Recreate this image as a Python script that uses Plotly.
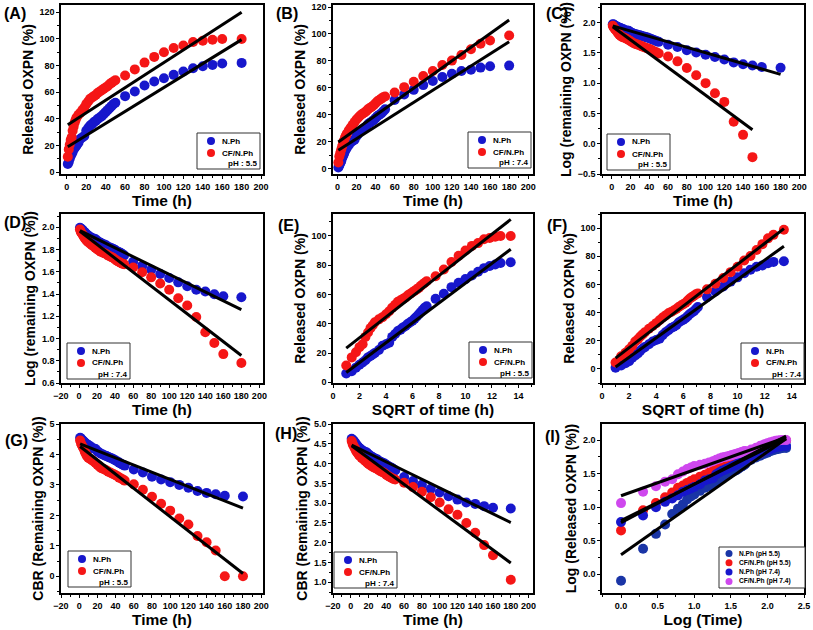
import numpy as np
import plotly.graph_objects as go

# ---------------- data ----------------
time_h = [1, 2, 3, 4, 5, 6, 7, 8, 9, 10,
          12, 14, 16, 18, 20, 22, 24, 26, 28, 30, 32, 34, 36, 38, 40, 42, 44, 46, 48, 50,
          60, 70, 80, 90, 100, 110, 120, 130, 140, 150, 160, 180]

# cumulative released OXPN (%)
nph_ph55 = [6, 7.5, 10, 12, 13.5, 15, 17, 18, 19, 20,
            22, 25, 26, 27, 31, 33, 35, 36, 37.5, 38.5, 40, 41, 42, 43.5, 45, 46.5, 48, 49.5, 51, 52,
            57, 60.5, 65, 68, 70.5, 73, 75.5, 78, 79.5, 80.5, 81.5, 82]
cfnph_ph55 = [11.5, 17, 20.5, 24, 26, 31, 34, 37, 39, 41,
              43, 44.5, 46.5, 48.5, 51, 53, 55, 56, 57, 58, 59.5, 60.5, 61.5, 62.5, 63.5, 64.5, 66, 67, 68, 69,
              72.5, 77.1, 82.2, 86.5, 90, 93.2, 95.1, 97.7, 98.6, 99.4, 100, 100]
nph_ph74 = [0.8, 2.4, 4, 5.5, 7.9, 9.5, 11, 13, 14.5, 15.5,
            17.5, 19.5, 20.5, 21.5, 24, 26, 27.5, 29, 30, 31, 33, 34, 35, 36, 37.5, 39, 40, 41, 42.5, 44,
            51, 55, 58.5, 62, 65, 68, 70.5, 72.5, 73.5, 75, 76, 76.5]
cfnph_ph74 = [4.5, 9, 11.5, 14, 16.5, 19.5, 21, 23, 24.5, 26,
              28.5, 30.5, 32.5, 34.5, 36.5, 38, 39.5, 40.5, 41.5, 42.5, 44, 45, 46, 47, 48.5, 50, 51, 52, 53, 53.5,
              56.5, 60.5, 64.5, 68.7, 72.5, 77, 80.2, 84.4, 88.6, 92.7, 95.2, 98.8]

# panel (D) CF/N.Ph last points as plotted (log remaining)
d_cfnph_tail_time = [150, 160, 180]
d_cfnph_tail_logrem = [0.96, 0.86, 0.78]

# fitted straight lines: [x_start, x_end], [y_start, y_end]
fit_time = [1, 180]
fitA_nph = [19, 99.5];    fitA_cf = [35.5, 120]
fitB_nph = [13.6, 94.2];  fitB_cf = [19.8, 110.3]
fitC_nph = [1.945, 1.144]; fitC_cf_time = [1, 150]; fitC_cf = [1.93, 0.23]
fitD_nph = [1.97, 1.26];  fitD_cf = [1.965, 0.847]
fit_sqrt = [1, 13.42]
fitE_nph = [6.7, 90.9];   fitE_cf = [23.3, 111.3]
fitF_nph = [1.4, 87.1];   fitF_cf = [7.7, 99.6]
fitG_nph = [4.35, 2.24];  fitG_cf = [4.26, 0.09]
fitH_nph = [4.47, 2.51];  fitH_cf = [4.45, 1.49]
fit_logt = [0, 2.255]
fitI_navy = [0.29, 2.02]; fitI_red = [0.77, 2.06]; fitI_blue = [0.80, 2.02]; fitI_violet = [1.17, 2.04]

legend_names = ['N.Ph', 'CF/N.Ph']
legend_names_I = ['N.Ph (pH 5.5)', 'CF/N.Ph (pH 5.5)', 'N.Ph (pH 7.4)', 'CF/N.Ph (pH 7.4)']

# ---------------- derived series ----------------
t = np.array(time_h, dtype=float)
R = {k: np.array(v, dtype=float) for k, v in
     dict(n55=nph_ph55, c55=cfnph_ph55, n74=nph_ph74, c74=cfnph_ph74).items()}
sqrt_t = np.sqrt(t)
log_t = np.log10(t)


def log_rem(r):
    rem = 100.0 - r
    out = np.full_like(rem, np.nan)
    ok = rem > 0
    out[ok] = np.log10(rem[ok])
    return out


def cbr(r):
    return np.cbrt(np.clip(100.0 - r, 0, None))


d_cf = log_rem(R['c74'])
for tt, vv in zip(d_cfnph_tail_time, d_cfnph_tail_logrem):
    d_cf[time_h.index(tt)] = vv

BLUE = '#1717cc'
RED = '#f51616'
NAVY = '#1a35a6'
VIOLET = '#cf48ee'
FONT = 'Liberation Sans, Arial, sans-serif'
W, H = 813, 630

fig = go.Figure()


def names(k):
    return ('x' if k == 1 else f'x{k}', 'y' if k == 1 else f'y{k}')


def pts(k, x, y, name, color):
    xa, ya = names(k)
    fig.add_trace(go.Scatter(x=x, y=y, mode='markers', name=name,
                             marker=dict(size=10, color=color, line=dict(width=0)),
                             xaxis=xa, yaxis=ya, showlegend=False))


def fit(k, x, y):
    xa, ya = names(k)
    fig.add_trace(go.Scatter(x=x, y=y, mode='lines', line=dict(color='black', width=3),
                             xaxis=xa, yaxis=ya, showlegend=False, hoverinfo='skip'))


# (A)
pts(1, time_h, R['n55'], 'N.Ph', BLUE); pts(1, time_h, R['c55'], 'CF/N.Ph', RED)
fit(1, fit_time, fitA_cf); fit(1, fit_time, fitA_nph)
# (B)
pts(2, time_h, R['n74'], 'N.Ph', BLUE); pts(2, time_h, R['c74'], 'CF/N.Ph', RED)
fit(2, fit_time, fitB_cf); fit(2, fit_time, fitB_nph)
# (C)
pts(3, time_h, log_rem(R['n55']), 'N.Ph', BLUE); pts(3, time_h, log_rem(R['c55']), 'CF/N.Ph', RED)
fit(3, fit_time, fitC_nph); fit(3, fitC_cf_time, fitC_cf)
# (D)
pts(4, time_h, log_rem(R['n74']), 'N.Ph', BLUE); pts(4, time_h, d_cf, 'CF/N.Ph', RED)
fit(4, fit_time, fitD_nph); fit(4, fit_time, fitD_cf)
# (E)
pts(5, sqrt_t, R['n55'], 'N.Ph', BLUE); pts(5, sqrt_t, R['c55'], 'CF/N.Ph', RED)
fit(5, fit_sqrt, fitE_nph); fit(5, fit_sqrt, fitE_cf)
# (F)
pts(6, sqrt_t, R['n74'], 'N.Ph', BLUE); pts(6, sqrt_t, R['c74'], 'CF/N.Ph', RED)
fit(6, fit_sqrt, fitF_nph); fit(6, fit_sqrt, fitF_cf)
# (G)
pts(7, time_h, cbr(R['n55']), 'N.Ph', BLUE); pts(7, time_h, cbr(R['c55']), 'CF/N.Ph', RED)
fit(7, fit_time, fitG_nph); fit(7, fit_time, fitG_cf)
# (H)
pts(8, time_h, cbr(R['n74']), 'N.Ph', BLUE); pts(8, time_h, cbr(R['c74']), 'CF/N.Ph', RED)
fit(8, fit_time, fitH_nph); fit(8, fit_time, fitH_cf)
# (I)
pts(9, log_t, np.log10(R['n74']), legend_names_I[0], NAVY)
pts(9, log_t, np.log10(R['c74']), legend_names_I[1], RED)
pts(9, log_t, np.log10(R['n55']), legend_names_I[2], BLUE)
pts(9, log_t, np.log10(R['c55']), legend_names_I[3], VIOLET)
fit(9, fit_logt, fitI_navy); fit(9, fit_logt, fitI_blue); fit(9, fit_logt, fitI_red); fit(9, fit_logt, fitI_violet)

# ---------------- layout ----------------
cols = [(61, 263), (333, 533), (602, 804)]
rows = [(5, 174), (214, 383), (424, 593)]

panels = {
    1: dict(xr=[-6, 202], yr=[-1.5, 125.5], xd=20, yd=20, xt='Time (h)', yt='Released OXPN (%)'),
    2: dict(xr=[-4.6, 205], yr=[-4, 121.5], xd=20, yd=20, xt='Time (h)', yt='Released OXPN (%)'),
    3: dict(xr=[-10.5, 205], yr=[-0.5, 2.29], xd=20, yd=0.5, xt='Time (h)', yt='Log (remaining OXPN (%))', yf='.1f'),
    4: dict(xr=[-20, 204], yr=[0.6, 2.12], xd=20, yd=0.2, xt='Time (h)', yt='Log (remaining OXPN (%))', yf='.1f'),
    5: dict(xr=[0, 15.1], yr=[-0.5, 115], xd=2, yd=20, xt='SQRT of time (h)', yt='Released OXPN (%)'),
    6: dict(xr=[0, 14.9], yr=[-10, 110], xd=2, yd=20, xt='SQRT of time (h)', yt='Released OXPN (%)'),
    7: dict(xr=[-20, 202], yr=[-0.55, 5.0], xd=20, yd=1, xt='Time (h)', yt='CBR (Remaining OXPN (%))'),
    8: dict(xr=[-20, 205], yr=[0.73, 5.0], xd=20, yd=0.5, xt='Time (h)', yt='CBR (Remaining OXPN (%))', yf='.1f'),
    9: dict(xr=[-0.26, 2.5], yr=[-0.28, 2.24], xd=0.5, yd=0.5, xt='Log (Time)', yt='Log (Released OXPN (%))', xf='.1f', yf='.1f'),
}

tickfont = dict(family=FONT, size=9, color='black', weight='bold')
layout = dict(width=W, height=H, margin=dict(l=0, r=0, t=0, b=0),
              paper_bgcolor='white', plot_bgcolor='white',
              font=dict(family=FONT, color='black'), showlegend=False)

for k, p in panels.items():
    r, c = divmod(k - 1, 3)
    x0, x1 = cols[c]
    y0, y1 = rows[r]
    xa, ya = names(k)
    common = dict(showline=True, linecolor='black', linewidth=1.5, mirror=True,
                  ticks='outside', ticklen=3, tickwidth=1.2, tickcolor='black',
                  showgrid=False, zeroline=False, tickfont=tickfont, automargin=False)
    xkey = 'xaxis' if k == 1 else f'xaxis{k}'
    ykey = 'yaxis' if k == 1 else f'yaxis{k}'
    layout[xkey] = dict(common, domain=[x0 / W, x1 / W], range=p['xr'], anchor=ya,
                        dtick=p['xd'], tick0=0, tickformat=p.get('xf', ''),
                        minor=dict(dtick=p['xd'] / 2, ticks='outside', ticklen=2, tickcolor='black'),
                        title=dict(text=p['xt'], standoff=1,
                                   font=dict(family=FONT, size=15.5, color='black', weight='bold')))
    layout[ykey] = dict(common, domain=[1 - y1 / H, 1 - y0 / H], range=p['yr'], anchor=xa,
                        dtick=p['yd'], tick0=0, tickformat=p.get('yf', ''),
                        minor=dict(dtick=p['yd'] / 2, ticks='outside', ticklen=2, tickcolor='black'),
                        title=dict(text=p['yt'], standoff=3,
                                   font=dict(family=FONT, size=14, color='black', weight='bold')))

# ---------------- legend boxes (drawn as paper shapes + text) ----------------
shapes, annotations = [], []


def px(x):
    return x / W


def py(y):
    return 1 - y / H


def legend_box(L, T, Wd, Ht, entries, note, row_y, mx, tx, msize, fsize, note_x=None):
    shapes.append(dict(type='rect', xref='paper', yref='paper', x0=px(L), x1=px(L + Wd),
                       y0=py(T + Ht), y1=py(T), line=dict(color='#333', width=1), fillcolor='white',
                       layer='above'))
    for (name, col), yy in zip(entries, row_y):
        r = msize / 2
        shapes.append(dict(type='circle', xref='paper', yref='paper',
                           x0=px(L + mx - r), x1=px(L + mx + r), y0=py(T + yy + r), y1=py(T + yy - r),
                           fillcolor=col, line=dict(width=0), layer='above'))
        annotations.append(dict(text=name, x=px(L + tx), y=py(T + yy), xref='paper', yref='paper',
                                xanchor='left', yanchor='middle', showarrow=False,
                                font=dict(family=FONT, size=fsize, color='black', weight='bold')))
    if note:
        annotations.append(dict(text=note, x=px(L + note_x), y=py(T + row_y[len(entries)]),
                                xref='paper', yref='paper', xanchor='left', yanchor='middle',
                                showarrow=False,
                                font=dict(family=FONT, size=fsize, color='black', weight='bold')))


two = [(legend_names[0], BLUE), (legend_names[1], RED)]
box_rows = [8, 20, 31]
legend_specs = [  # (left, top, pH note)
    (197, 133, 'pH : 5.5'), (468, 132, 'pH : 7.4'), (607, 134, 'pH : 5.5'),
    (67, 343, 'pH : 7.4'), (469, 342, 'pH : 5.5'), (741, 343, 'pH : 7.4'),
    (68, 551, 'pH : 5.5'), (334, 552, 'pH : 7.4'),
]
for L, T, note in legend_specs:
    legend_box(L, T, 63, 36, two, note, box_rows, mx=14, tx=23, msize=8, fsize=8, note_x=29)

legend_box(719, 547, 86, 41, list(zip(legend_names_I, [NAVY, RED, BLUE, VIOLET])), None,
           [6.5, 15.8, 25.1, 34.4], mx=10, tx=18, msize=7, fsize=6.6)

labels = {'(A)': (15, 13), '(B)': (287, 13), '(C)': (557, 13), '(D)': (15, 222), '(E)': (288, 225),
          '(F)': (557, 225), '(G)': (16, 440), '(H)': (286, 433), '(I)': (552, 436)}
for s, (lx, ly) in labels.items():
    annotations.append(dict(text=f'<b>{s}</b>', x=px(lx), y=py(ly), xref='paper', yref='paper',
                            showarrow=False, xanchor='center', yanchor='middle',
                            font=dict(family=FONT, size=16, color='black')))

layout['shapes'] = shapes
layout['annotations'] = annotations
fig.update_layout(**layout)
fig.write_html('out.html', config={'displayModeBar': False},
               post_script="document.body.style.margin='0';document.body.style.padding='0';")
